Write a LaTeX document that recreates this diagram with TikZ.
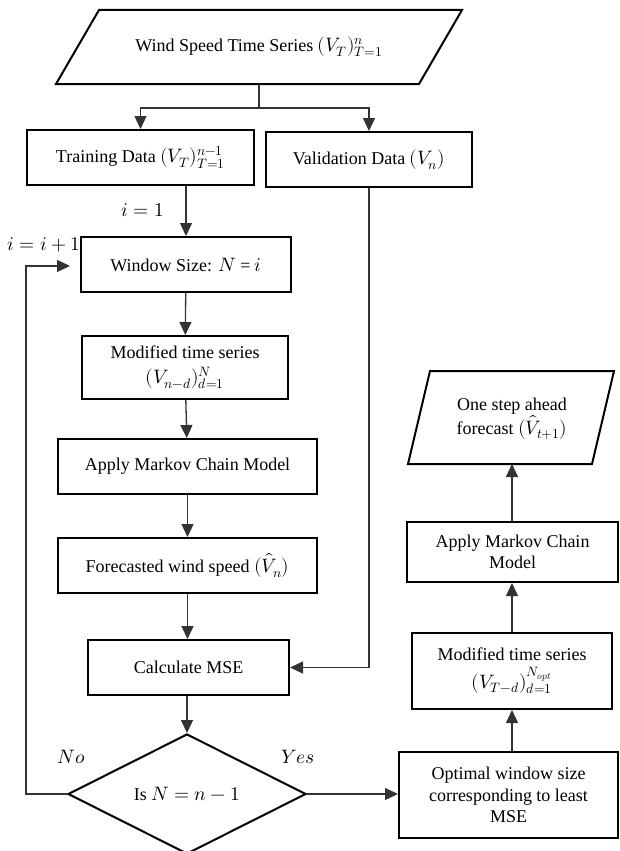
\documentclass[tikz,border=0pt]{standalone}
\usepackage{fontspec}
\usepackage{unicode-math}
\setmainfont{Liberation Serif}
\setmathfont{Latin Modern Math}[Scale=1.08]
\usetikzlibrary{arrows.meta,shapes.geometric}
\begin{document}
\begin{tikzpicture}[x=1pt,y=-1pt,
  txt/.style={font=\fontsize{18}{21.5}\selectfont, align=center, inner sep=0pt},
  box/.style={txt, draw=black, line width=2pt, rectangle},
  shapeline/.style={draw=black, line width=2pt, line join=miter},
  conn/.style={draw=black!80, line width=1.3pt},
  arr/.style={conn, -{Triangle[length=13pt,width=12pt]}},
  lab/.style={font=\fontsize{18}{21.5}\selectfont, inner sep=0pt}
]
\useasboundingbox (0,0) rectangle (619,851);
\fill[white] (0,0) rectangle (619,851);

% top input parallelogram
\draw[shapeline] (99,10) -- (462,10) -- (419,84) -- (56,84) -- cycle;
\node[txt] (ws) at (259,47) {Wind Speed Time Series $(V_T)_{T=1}^{n}$};
\coordinate (wsb) at (259,84);
\coordinate (split) at (259,108);

\node[box, minimum width=227pt, minimum height=55pt] (train) at (140.5,157.5) {Training Data $(V_T)_{T=1}^{n-1}$};
\node[box, minimum width=206pt, minimum height=55pt] (valid) at (369,159.5) {Validation Data $(V_n)$};

\node[box, minimum width=210pt, minimum height=55pt] (win) at (186,264.5) {Window Size: $N$ = $i$};
\node[box, minimum width=206pt, minimum height=63pt] (mod) at (185,367.5) {Modified time series\\[3pt]$(V_{n-d})_{d=1}^{N}$};
\node[box, minimum width=259pt, minimum height=55pt] (apply) at (187.5,466.5) {Apply Markov Chain Model};
\node[box, minimum width=259pt, minimum height=55pt] (fore) at (187.5,565.5) {Forecasted wind speed $(\hat{V}_n)$};
\node[box, minimum width=201pt, minimum height=55pt] (mse) at (188.5,667.5) {Calculate MSE};
\node[txt, shape=diamond, draw=black, line width=2pt, minimum width=238pt, minimum height=120pt, aspect=1.98] (dia) at (187,794) {Is $N = n - 1$};

\node[box, minimum width=219pt, minimum height=86pt] (opt) at (508.5,795) {Optimal window size\\corresponding to least\\MSE};
\node[box, minimum width=200pt, minimum height=76pt] (modr) at (512,671) {Modified time series\\[6pt]$(V_{T-d})_{d=1}^{N_{opt}}$};
\node[box, minimum width=211pt, minimum height=60pt] (applyr) at (512.5,552) {Apply Markov Chain\\Model};

% output parallelogram
\draw[shapeline] (430,371) -- (614,371) -- (592,464) -- (408,464) -- cycle;
\node[txt] (out) at (512,419) {One step ahead\\forecast $(\hat{V}_{t+1})$};
\coordinate (outb) at (512,464);

% labels
\node[lab] (l1) at (143,210) {$i = 1$};
\node[lab] (l2) at (44,245) {$i = i + 1$};
\node[lab] (lno) at (71,757) {$No$};
\node[lab] (lyes) at (298,757) {$Yes$};

% connectors
\draw[conn] (wsb) -- (split);
\draw[arr] (split) -| (train.north);
\draw[arr] (split) -| (valid.north);
\draw[arr] (train.south -| win.north) -- (win.north);
\draw[arr] (win) -- (mod);
\draw[arr] (mod) -- (apply);
\draw[arr] (apply) -- (fore);
\draw[arr] (fore.south) -- (fore.south |- mse.north);
\draw[arr] (mse.south -| dia.north) -- (dia.north);
\draw[arr] (valid.south) |- (mse.east);
\coordinate (fb) at (26,266);
\draw[arr, shorten >=10pt] (dia.west) -| (fb) -- (fb -| win.west);
\draw[arr] (dia.east) -- (dia.east -| opt.west);
\draw[arr] (modr.south |- opt.north) -- (modr.south);
\draw[arr] (modr.north) -- (applyr.south -| modr.north);
\draw[arr] (applyr.north -| outb) -- (outb);
\end{tikzpicture}
\end{document}
